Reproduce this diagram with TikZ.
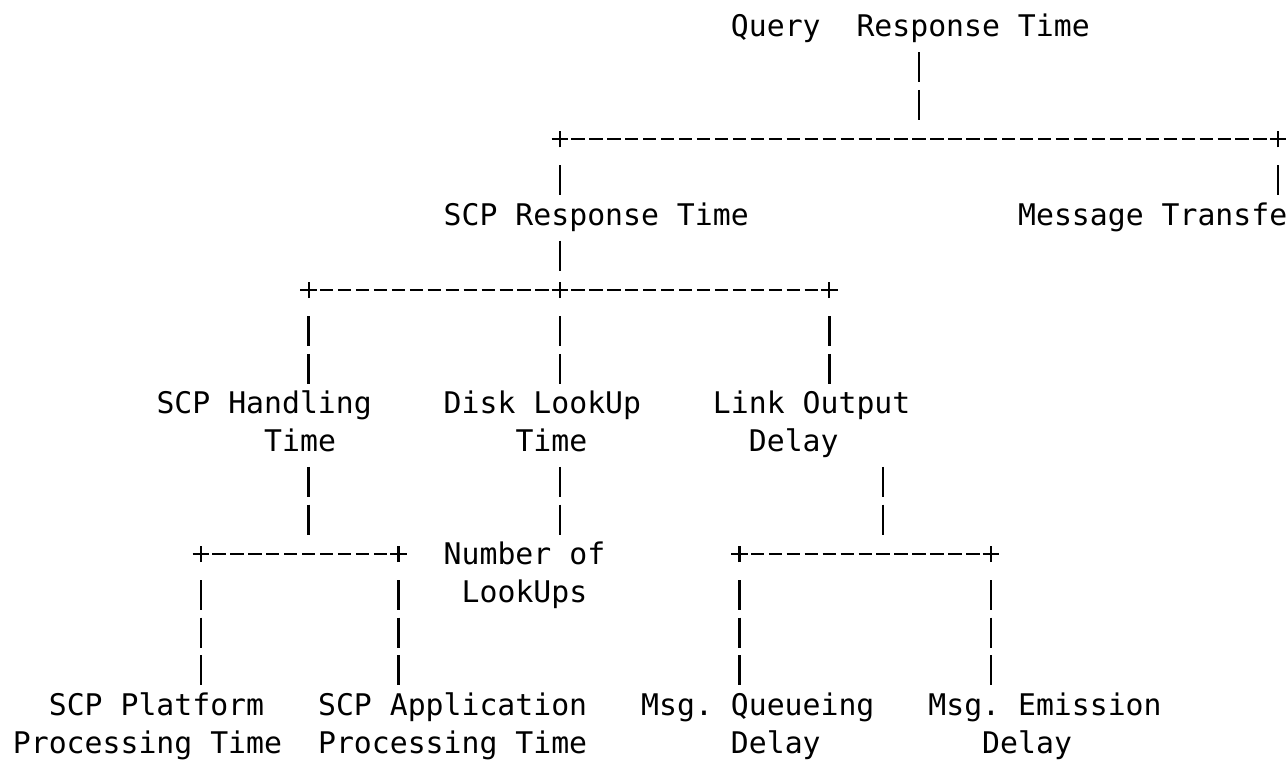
\documentclass[tikz,border=0pt]{standalone}
\usepackage{fontspec}
\newfontfamily\asciifont{DejaVu Sans Mono}
\usetikzlibrary{shapes.misc}

\tikzset{
	lbl/.style={font=\asciifont\fontsize{14.9}{18}\selectfont\frenchspacing, inner sep=0pt, text height=10.86pt, text depth=0pt, anchor=west},
	junc/.style={cross out, draw, rotate=45, minimum size=4.7pt, inner sep=0pt, line width=1.15pt},
	hbar/.style={line width=1.15pt, dash pattern=on 6.65pt off 2.325pt, shorten <=5.65pt, shorten >=5.65pt},
	vbar/.style={line width=1.3pt, dash pattern=on 15pt off 3.85pt, shorten <=13.1pt, shorten >=9.6pt}
}

\begin{document}
\begin{tikzpicture}[x=8.975pt, y=-18.85pt]
	\useasboundingbox[fill=white] (-1.1978, -0.6897) rectangle (70.557, 19.4695);

	% labels, one node per printed line
	\node[lbl] (qrt) at (39.5, 0) {Query\ \ Response Time};
	\node[lbl] (srt) at (23.5, 5) {SCP Response Time};
	\node[lbl] (mtt) at (55.5, 5) {Message Transfe};
	\node[lbl] (hand) at (7.5, 10) {SCP Handling};
	\node[lbl] (handt) at (13.5, 11) {Time};
	\node[lbl] (disk) at (23.5, 10) {Disk LookUp};
	\node[lbl] (diskt) at (27.5, 11) {Time};
	\node[lbl] (link) at (38.5, 10) {Link Output};
	\node[lbl] (linkt) at (40.5, 11) {Delay};
	\node[lbl] (nlu) at (23.5, 14) {Number of};
	\node[lbl] (nlut) at (24.5, 15) {LookUps};
	\node[lbl] (plat) at (1.5, 18) {SCP Platform};
	\node[lbl] (platt) at (-0.5, 19) {Processing Time};
	\node[lbl] (app) at (16.5, 18) {SCP Application};
	\node[lbl] (appt) at (16.5, 19) {Processing Time};
	\node[lbl] (que) at (34.5, 18) {Msg. Queueing};
	\node[lbl] (quet) at (39.5, 19) {Delay};
	\node[lbl] (emi) at (50.5, 18) {Msg. Emission};
	\node[lbl] (emit) at (53.5, 19) {Delay};

	% junctions
	\node[junc] (ja) at (30, 3) {};
	\node[junc] (jb) at (70, 3) {};
	\node[junc] (jc) at (30, 7) {};
	\node[junc] (jd) at (16, 7) {};
	\node[junc] (je) at (45, 7) {};
	\node[junc] (jf) at (10, 14) {};
	\node[junc] (jg) at (21, 14) {};
	\node[junc] (jh) at (40, 14) {};
	\node[junc] (ji) at (54, 14) {};
	\coordinate (qrt-foot) at (50, 3);
	\coordinate (handt-foot) at (16, 14);
	\coordinate (linkt-foot) at (48, 14);

	% horizontal rules
	\draw[hbar] (ja.center) -- (jb.center);
	\draw[hbar] (jd.center) -- (jc.center);
	\draw[hbar] (jc.center) -- (je.center);
	\draw[hbar] (jf.center) -- (jg.center);
	\draw[hbar] (jh.center) -- (ji.center);

	% vertical rules (top to bottom)
	\draw[vbar] (qrt-foot |- qrt.center) -- (qrt-foot);
	\draw[vbar] (ja.center) -- (ja.center |- srt.center);
	\draw[vbar] (jb.center) -- (jb.center |- mtt.center);
	\draw[vbar] (jc.center |- srt.center) -- (jc.center);
	\draw[vbar] (jd.center) -- (jd.center |- hand.center);
	\draw[vbar] (jc.center) -- (jc.center |- disk.center);
	\draw[vbar] (je.center) -- (je.center |- link.center);
	\draw[vbar] (handt-foot |- handt.center) -- (handt-foot);
	\draw[vbar] (jc.center |- diskt.center) -- (jc.center |- nlu.center);
	\draw[vbar] (linkt-foot |- linkt.center) -- (linkt-foot);
	\draw[vbar] (jf.center) -- (jf.center |- plat.center);
	\draw[vbar] (jg.center) -- (jg.center |- app.center);
	\draw[vbar] (jh.center) -- (jh.center |- que.center);
	\draw[vbar] (ji.center) -- (ji.center |- emi.center);
\end{tikzpicture}
\end{document}
